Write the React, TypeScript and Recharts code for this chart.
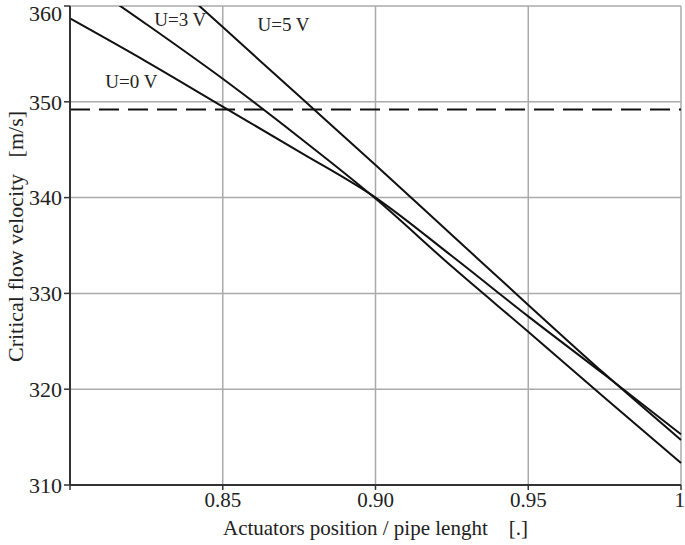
import { LineChart, Line, XAxis, YAxis, CartesianGrid, ReferenceLine, ReferenceDot } from 'recharts';

// actuator position / pipe length
const positions = [0.8, 0.825, 0.85, 0.875, 0.9, 0.925, 0.95, 0.975, 1.0];

// critical flow velocity [m/s] for each supply voltage
const u0 = [358.7, 354.2, 349.5, 344.8, 340.0, 333.9, 327.6, 321.5, 315.3];
const u3 = [363.6, 358.1, 352.4, 346.3, 339.9, 332.8, 326.0, 319.1, 312.3];
const u5 = [372.3, 365.0, 357.8, 350.6, 343.4, 336.1, 328.8, 321.6, 314.7];

const xTicks = [0.8, 0.85, 0.9, 0.95, 1.0];
const xTickLabels = ['', '0.85', '0.90', '0.95', '1'];
const yTicks = [310, 320, 330, 340, 350, 360];

const soundSpeed = 349.2;

const seriesNames = ['U=0 V', 'U=3 V', 'U=5 V'];
const labelX = [0.8201, 0.8361, 0.8699];
const labelY = [352.1, 358.6, 358.1];

const data = positions.map((x, i) => ({ x, u0: u0[i], u3: u3[i], u5: u5[i] }));

const font = '"Liberation Serif", "Times New Roman", serif';
const axisColor = '#333';
const gridColor = '#aaa';

function YTitle(props: any) {
  const vb = props.viewBox;
  const cx = 15;
  const cy = vb.y + vb.height / 2 - 9;
  return (
    <text
      x={cx}
      y={cy}
      transform={`rotate(-90, ${cx}, ${cy})`}
      textAnchor="middle"
      dominantBaseline="central"
      fontFamily={font}
      fontSize={22}
      fill="#222"
      style={{ whiteSpace: 'pre' }}
    >
      {'Critical flow velocity   [m/s]'}
    </text>
  );
}

function XTitle(props: any) {
  const vb = props.viewBox;
  return (
    <text
      x={vb.x + vb.width / 2}
      y={528}
      textAnchor="middle"
      dominantBaseline="central"
      fontFamily={font}
      fontSize={21}
      fill="#222"
      style={{ whiteSpace: 'pre' }}
    >
      {'Actuators position / pipe lenght    [.]'}
    </text>
  );
}

export default function App() {
  return (
    <div style={{ position: 'absolute', left: 0, top: 0, background: '#fff' }}>
      <LineChart width={685} height={545} data={data} margin={{ top: 6, right: 4, bottom: 5, left: 0 }}>
        <CartesianGrid stroke={gridColor} strokeWidth={1.5} horizontalValues={yTicks} verticalValues={xTicks} />
        <XAxis
          dataKey="x"
          type="number"
          domain={[0.8, 1]}
          ticks={xTicks}
          tickFormatter={(v: number) => xTickLabels[xTicks.findIndex((t) => Math.abs(t - v) < 1e-9)] ?? ''}
          height={55}
          axisLine={{ stroke: axisColor, strokeWidth: 2 }}
          tickLine={{ stroke: axisColor, strokeWidth: 1.5 }}
          tickSize={5}
          tick={{ fill: '#222', fontSize: 21, fontFamily: font }}
          label={{ content: XTitle }}
        />
        <XAxis xAxisId="top" orientation="top" dataKey="x" type="number" domain={[0.8, 1]} height={0} tick={false} tickLine={false} axisLine={{ stroke: axisColor, strokeWidth: 2 }} />
        <YAxis
          type="number"
          domain={[310, 360]}
          ticks={yTicks}
          allowDataOverflow
          width={70}
          axisLine={{ stroke: axisColor, strokeWidth: 2 }}
          tickLine={{ stroke: axisColor, strokeWidth: 1.5 }}
          tickSize={6}
          tick={{ fill: '#222', fontSize: 22, fontFamily: font }}
          label={{ content: YTitle }}
        />
        <YAxis yAxisId="right" orientation="right" type="number" domain={[310, 360]} width={0} tick={false} tickLine={false} axisLine={{ stroke: axisColor, strokeWidth: 2 }} />
        <ReferenceLine y={soundSpeed} stroke="#111" strokeWidth={2} strokeDasharray="20 9" />
        <Line type="monotone" dataKey="u0" name={seriesNames[0]} stroke="#111" strokeWidth={2} dot={false} isAnimationActive={false} />
        <Line type="monotone" dataKey="u3" name={seriesNames[1]} stroke="#111" strokeWidth={2} dot={false} isAnimationActive={false} />
        <Line type="monotone" dataKey="u5" name={seriesNames[2]} stroke="#111" strokeWidth={2} dot={false} isAnimationActive={false} />
        {seriesNames.map((n, i) => (
          <ReferenceDot
            key={n}
            x={labelX[i]}
            y={labelY[i]}
            r={0}
            stroke="none"
            label={{ value: n, position: 'center', fontSize: 19, fontFamily: font, fill: '#222' }}
          />
        ))}
      </LineChart>
    </div>
  );
}
